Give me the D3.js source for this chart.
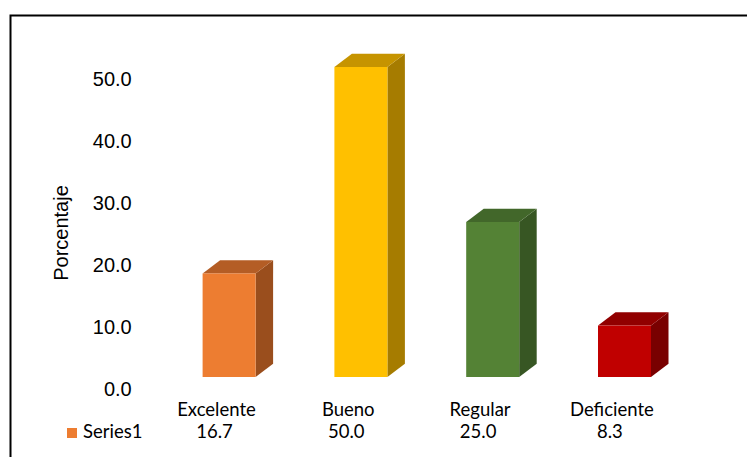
<!DOCTYPE html>
<html>
<head>
<meta charset="utf-8">
<script src="https://cdn.jsdelivr.net/npm/d3@7"></script>
<style>
  html, body { margin: 0; padding: 0; background: #fff; }
  svg { display: block; }
</style>
</head>
<body>
<svg id="chart" width="747" height="457"></svg>
<script>
// Categories, series and axis ticks
const categories = ["Excelente", "Bueno", "Regular", "Deficiente"];
const seriesName = "Series1";
const values = [16.7, 50.0, 25.0, 8.3];
const yTickValues = [0, 10, 20, 30, 40, 50];
const yTitle = "Porcentaje";

// Per-bar face colours: front, top, side
const frontColors = ["#ED7D31", "#FFC000", "#548235", "#C00000"];
const topColors   = ["#B45D25", "#C69400", "#42672A", "#910000"];
const sideColors  = ["#9A4E1D", "#A67C00", "#375623", "#790000"];

const svg = d3.select("#chart");
const W = 747, H = 457;

// Outer frame (only left and top edges fall inside the view)
svg.append("path")
  .attr("d", `M10.5,${H + 5}V15.5H${W + 5}`)
  .attr("fill", "none")
  .attr("stroke", "#000")
  .attr("stroke-width", 2);

// Scales
const x = d3.scaleBand().domain(categories).range([150.6, 677.8]).padding(0);
const y = d3.scaleLinear().domain([0, 50]).range([388.6, 78.6]);

// 3D geometry
const barW = 53;
const depthX = 17.5, depthY = -13.3;
const floorShift = -11.6;   // bars sit on the projected floor, above the wall's zero line
const frontShift = 12.6;    // front faces sit right of the category centre

// Y axis tick labels
const yAxis = d3.axisLeft(y)
  .tickValues(yTickValues)
  .tickFormat(d3.format(".1f"))
  .tickSize(0)
  .tickPadding(0);

const gy = svg.append("g")
  .attr("transform", "translate(131.7,0)")
  .call(yAxis);
gy.select(".domain").remove();
gy.selectAll("text")
  .attr("fill", "#000")
  .attr("dy", "0.36em")
  .style("font-family", "'Liberation Sans', Arial, sans-serif")
  .style("font-size", "20px");

// Y axis title
svg.append("text")
  .attr("transform", "translate(67.6,233) rotate(-90)")
  .attr("text-anchor", "middle")
  .style("font-family", "'Liberation Sans', Arial, sans-serif")
  .style("font-size", "20px")
  .attr("fill", "#000")
  .text(yTitle);

// Bars
const bars = svg.append("g").attr("transform", `translate(0,${floorShift})`);
const barData = categories.map((c, i) => ({ c, v: values[i], i }));

const g = bars.selectAll("g.bar").data(barData).enter().append("g").attr("class", "bar");

function geom(d) {
  const x0 = x(d.c) + x.bandwidth() / 2 - barW / 2 + frontShift;
  const x1 = x0 + barW;
  const yb = y(0);
  const yt = y(d.v);
  return { x0, x1, yb, yt };
}

// side face
g.append("path")
  .attr("d", d => {
    const { x1, yb, yt } = geom(d);
    return `M${x1},${yt}L${x1 + depthX},${yt + depthY}L${x1 + depthX},${yb + depthY}L${x1},${yb}Z`;
  })
  .attr("fill", d => sideColors[d.i]);

// top face
g.append("path")
  .attr("d", d => {
    const { x0, x1, yt } = geom(d);
    return `M${x0},${yt}L${x0 + depthX},${yt + depthY}L${x1 + depthX},${yt + depthY}L${x1},${yt}Z`;
  })
  .attr("fill", d => topColors[d.i]);

// front face
g.append("rect")
  .attr("x", d => geom(d).x0)
  .attr("y", d => geom(d).yt)
  .attr("width", barW)
  .attr("height", d => geom(d).yb - geom(d).yt)
  .attr("fill", d => frontColors[d.i]);

// Data table: category labels and values
const tableFont = "Lato, 'Liberation Sans', sans-serif";
const tableSize = "18.5px";

svg.append("g").selectAll("text").data(categories).enter().append("text")
  .attr("x", d => x(d) + x.bandwidth() / 2)
  .attr("y", 415.5)
  .attr("text-anchor", "middle")
  .style("font-family", tableFont)
  .style("font-size", tableSize)
  .attr("fill", "#000")
  .text(d => d);

svg.append("g").selectAll("text").data(barData).enter().append("text")
  .attr("x", d => x(d.c) + x.bandwidth() / 2 - 2)
  .attr("y", 437.5)
  .attr("text-anchor", "middle")
  .style("font-family", tableFont)
  .style("font-size", tableSize)
  .attr("fill", "#000")
  .text(d => d3.format(".1f")(d.v));

// Legend key for the series row
svg.append("rect")
  .attr("x", 67)
  .attr("y", 428)
  .attr("width", 10)
  .attr("height", 10)
  .attr("fill", frontColors[0]);

svg.append("text")
  .attr("x", 83)
  .attr("y", 437.5)
  .style("font-family", tableFont)
  .style("font-size", tableSize)
  .attr("fill", "#000")
  .text(seriesName);
</script>
</body>
</html>
